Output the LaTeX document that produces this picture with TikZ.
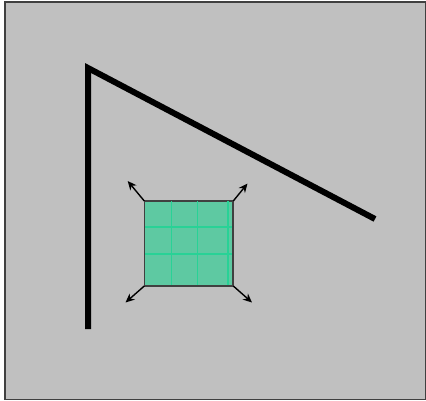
\documentclass[tikz,border=0pt]{standalone}
\usetikzlibrary{arrows.meta}
\definecolor{bg}{HTML}{C0C0C0}
\definecolor{frm}{HTML}{404040}
\definecolor{sqfill}{HTML}{5EC9A2}
\definecolor{gridg}{HTML}{28D296}
\tikzset{
  wall/.style={line width=6pt, line join=miter, line cap=butt, black},
  pull/.style={line width=1.4pt, -{Stealth[length=9pt,width=8pt]}, black},
  sq/.style={draw=frm, line width=1pt, fill=sqfill, minimum width=88pt, minimum height=84pt, inner sep=0pt, anchor=north west}
}
\begin{document}
\begin{tikzpicture}[x=1pt,y=-1pt]
\useasboundingbox (0,0) rectangle (426,401);
\fill[white] (0,0) rectangle (426,401);
\draw[frm, line width=1.2pt, fill=bg] (5,2) rectangle (425.4,399.5);
\draw[wall] (88,329) -- (88,68) -- (375,219);
\node[sq] (s) at (144.3,201) {};
\begin{scope}
\clip (s.north west) rectangle (s.south east);
\draw[gridg, line width=1.2pt] (171.5,201) -- (171.5,285) (197.5,201) -- (197.5,285) (228,201) -- (228,285)
  (144,227) -- (232,227) (144,254) -- (232,254);
\end{scope}
\draw[frm, line width=1pt] (s.north west) rectangle (s.south east);
\coordinate (tl) at (127.7,181);
\coordinate (tr) at (247.5,183.5);
\coordinate (bl) at (125.5,302.5);
\coordinate (br) at (252,302.5);
\draw[pull] (s.north west) -- (tl);
\draw[pull] (s.north east) -- (tr);
\draw[pull] (s.south west) -- (bl);
\draw[pull] (s.south east) -- (br);
\end{tikzpicture}
\end{document}
